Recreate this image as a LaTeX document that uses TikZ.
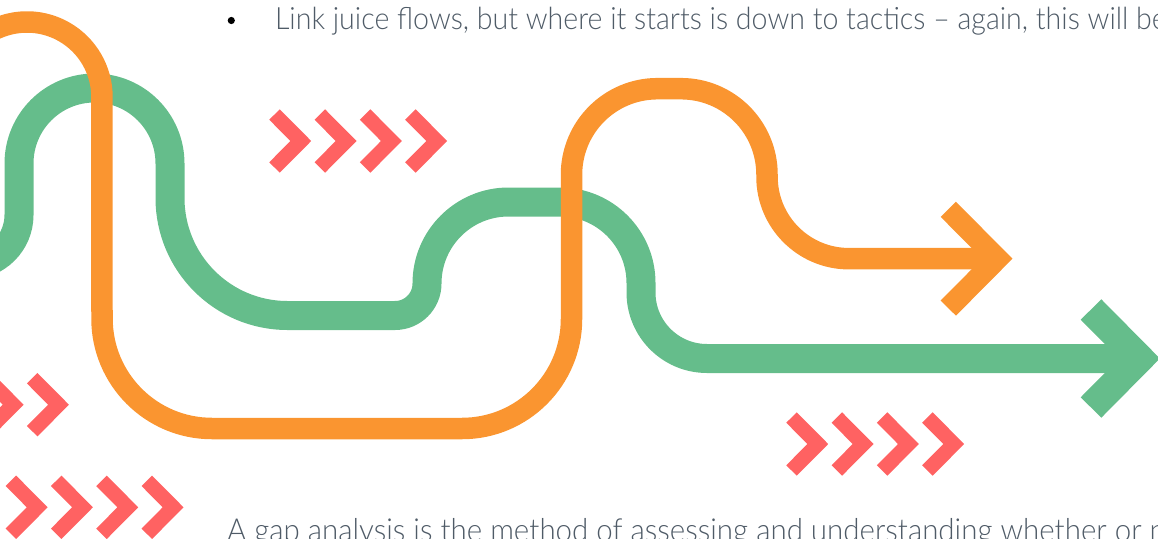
\documentclass[tikz,border=0pt]{standalone}
\usepackage{fontspec}
\setmainfont[FakeStretch=0.93]{Lato Light}
\definecolor{trackgreen}{HTML}{65BD8B}
\definecolor{trackorange}{HTML}{FA9530}
\definecolor{chevronred}{HTML}{FF6262}
\definecolor{bodyink}{HTML}{4F5B67}
\tikzset{
  greentrack/.style={draw=trackgreen,line width=29pt,line cap=butt,line join=miter},
  orangetrack/.style={draw=trackorange,line width=21.5pt,line cap=butt,line join=miter},
  chevronmark/.style={draw=chevronred,line width=14.8pt,line cap=butt,line join=miter},
  bodytext/.style={text=bodyink,anchor=base west,inner sep=0pt,outer sep=0pt}
}
\newcommand{\chevronat}[2]{\draw[chevronmark] (#1-26.3,#2-26.5) -- (#1,#2) -- (#1-26.3,#2+26.5);}
\begin{document}
\begin{tikzpicture}[x=1pt,y=-1pt]
\useasboundingbox (0,0) rectangle (1158,538);
\clip (0,0) rectangle (1158,538);
% green route
\draw[greentrack] (-31,265) arc[start angle=-90,end angle=0,radius=50pt]
  -- (19,163.5) arc[start angle=180,end angle=0,radius=75.5pt]
  -- (170,198) arc[start angle=180,end angle=270,radius=117.5pt]
  -- (395,315.5) arc[start angle=-90,end angle=0,radius=32pt]
  arc[start angle=180,end angle=90,radius=81.5pt]
  -- (560,202) arc[start angle=90,end angle=0,radius=81pt]
  -- (641,292.5) arc[start angle=180,end angle=270,radius=66pt]
  -- (1135,358.5);
\draw[greentrack] (1091,309.5) -- (1139.5,358.5) -- (1091,407.5);
% orange route, running over the green one
\draw[orangetrack] (-38,59.5) arc[start angle=150,end angle=0,radius=75pt]
  -- (102,318.5) arc[start angle=180,end angle=270,radius=110pt]
  -- (462,428.5) arc[start angle=-90,end angle=0,radius=109.5pt]
  -- (571.5,174.7) arc[start angle=180,end angle=90,radius=86pt]
  -- (681,88.7) arc[start angle=90,end angle=0,radius=86pt]
  -- (767,176.7) arc[start angle=180,end angle=270,radius=82pt]
  -- (995,258.7);
\draw[orangetrack] (948.3,209.3) -- (997.3,258.7) -- (948.3,308.1);
% chevron groups
\foreach \cx in {300.8,346.1,391.4,436.7} {\chevronat{\cx}{141}}
\foreach \cx in {817.8,863.1,908.4,953.7} {\chevronat{\cx}{444}}
\foreach \cx in {13.2,58.5} {\chevronat{\cx}{404.7}}
\foreach \cx in {37.2,82.5,127.8,173.1} {\chevronat{\cx}{507.3}}
% text lines
\fill[black] (231.3,20.5) circle[radius=3.6pt];
\node[bodytext,font=\fontsize{30.7}{36}\selectfont] (linkline) at (275,29) {Link juice flows, but where it starts is down to tactics – again, this will be};
\node[bodytext,font=\fontsize{31.7}{38}\selectfont] (gapline) at (227,541.5) {A gap analysis is the method of assessing and understanding whether or n};
\end{tikzpicture}
\end{document}
